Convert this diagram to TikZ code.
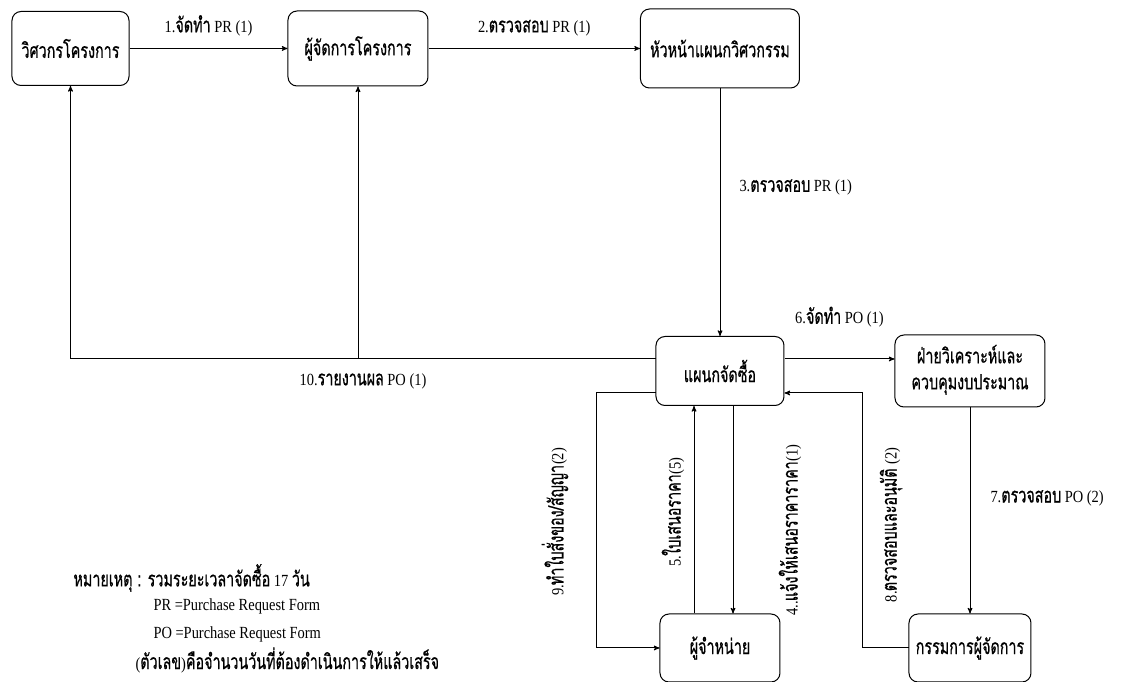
\documentclass[tikz,border=0pt]{standalone}
\usepackage{fontspec}
\setmainfont{Liberation Serif}[FakeStretch=0.85]
\newfontfamily\thaifont{Loma}[Script=Thai,Scale=1.24,FakeStretch=0.68,FakeBold=0.6]
\usetikzlibrary{arrows,chains,matrix,positioning,scopes}
\newcommand{\tha}[1]{{\thaifont #1}}
\tikzset{>=stealth',every join/.style={->}}
\tikzstyle{dept}=[draw, rounded corners=9pt, inner sep=2pt,
	font=\thaifont\fontsize{17}{26}\selectfont]
\tikzstyle{lbl}=[inner sep=0pt, font=\fontsize{17}{20}\selectfont]
\tikzstyle{note}=[anchor=west, inner sep=0pt, font=\fontsize{17}{20}\selectfont]

\begin{document}
\begin{tikzpicture}[x=1pt,y=1pt,line width=1pt]
	\useasboundingbox (0,0) rectangle (1128,682);
	\matrix (m) [matrix of nodes, nodes={dept,anchor=center},
		matrix anchor=eng.center] at (70.5,633.5)
	{
		|(eng)[minimum width=117pt,minimum height=74pt]| วิศวกรโครงการ
		&[158pt] |(pm)[minimum width=140pt,minimum height=75pt]| ผู้จัดการโครงการ
		&[211.5pt] |(head)[minimum width=159pt,minimum height=79pt]| หัวหน้าแผนกวิศวกรรม
		&[94.5pt] \\[246pt]
		&[158pt] &[211.5pt] |(buy)[minimum width=128pt,minimum height=69pt]| แผนกจัดซื้อ
		&[94.5pt] |(budget)[minimum width=150pt,minimum height=72pt]| \begin{tabular}{@{}c@{}}ฝ่ายวิเคราะห์และ\\ควบคุมงบประมาณ\end{tabular}
		\\[206pt]
		&[158pt] &[211.5pt] |(vendor)[minimum width=120pt,minimum height=68pt]| ผู้จำหน่าย
		&[94.5pt] |(md)[minimum width=122pt,minimum height=68pt]| กรรมการผู้จัดการ
		\\
	};
	{ [start chain]
		\chainin (eng);
		\chainin (pm) [join=by {edge node={node[lbl,above=12pt] (lab1) {1.\tha{จัดทำ} PR (1)}}}];
		\chainin (head) [join=by {edge node={node[lbl,above=12pt] (lab2) {2.\tha{ตรวจสอบ} PR (1)}}}];
		\chainin (buy) [join=by {edge node={node[lbl,pos=0.4,right=19pt] (lab3) {3.\tha{ตรวจสอบ} PR (1)}}}];
	}
	{ [start chain]
		\chainin (budget);
		\chainin (md) [join=by {edge node={node[lbl,pos=0.44,right=20pt] (lab7) {7.\tha{ตรวจสอบ} PO (2)}}}];
	}
	% purchasing out to budget, report back, vendors, approval
	\draw[->] ([yshift=12pt]buy.east) -- node[lbl,above=31pt] (lab6) {6.\tha{จัดทำ} PO (1)} ([yshift=12pt]budget.west);
	\coordinate (po10) at ([yshift=12pt]buy.west);
	\draw[->] (po10) -| node[lbl,pos=0.25,below=14pt] (lab10) {10.\tha{รายงานผล} PO (1)} (eng);
	\draw[->] (po10 -| pm.south) -- (pm);
	\draw[->] ([yshift=-22pt]buy.west) -- ++(-59pt,0) |- (vendor.west);
	\draw[->] ([xshift=-26pt]vendor.north) -- ([xshift=-26pt]buy.south);
	\draw[->] ([xshift=13pt]buy.south) -- ([xshift=13pt]vendor.north);
	\draw[->] (md.west) -- ++(-46pt,0) |- ([yshift=-22pt]buy.east);
	\node[lbl,rotate=90] (lab9) at (555,160) {9.\tha{ทำใบสั่งของ/สัญญา}(2)};
	\node[lbl,rotate=90] (lab5) at (673,170) {5.\tha{ใบเสนอราคา}(5)};
	\node[lbl,rotate=90] (lab4) at (790,152) {4..\tha{แจ้งให้เสนอราคาราคา}(1)};
	\node[lbl,rotate=90] (lab8) at (891,157) {8.\tha{ตรวจสอบและอนุมัติ} (2)};
	% remarks
	\node[note] (rem) at (73,104) {\tha{หมายเหตุ : รวมระยะเวลาจัดซื้อ} 17 \tha{วัน}};
	\node[note] (defpr) at (153,76) {PR =Purchase Request Form};
	\node[note] (defpo) at (153,48) {PO =Purchase Request Form};
	\node[note] (days) at (135,22) {(\tha{ตัวเลข})\tha{คือจำนวนวันที่ต้องดำเนินการให้แล้วเสร็จ}};
\end{tikzpicture}
\end{document}
